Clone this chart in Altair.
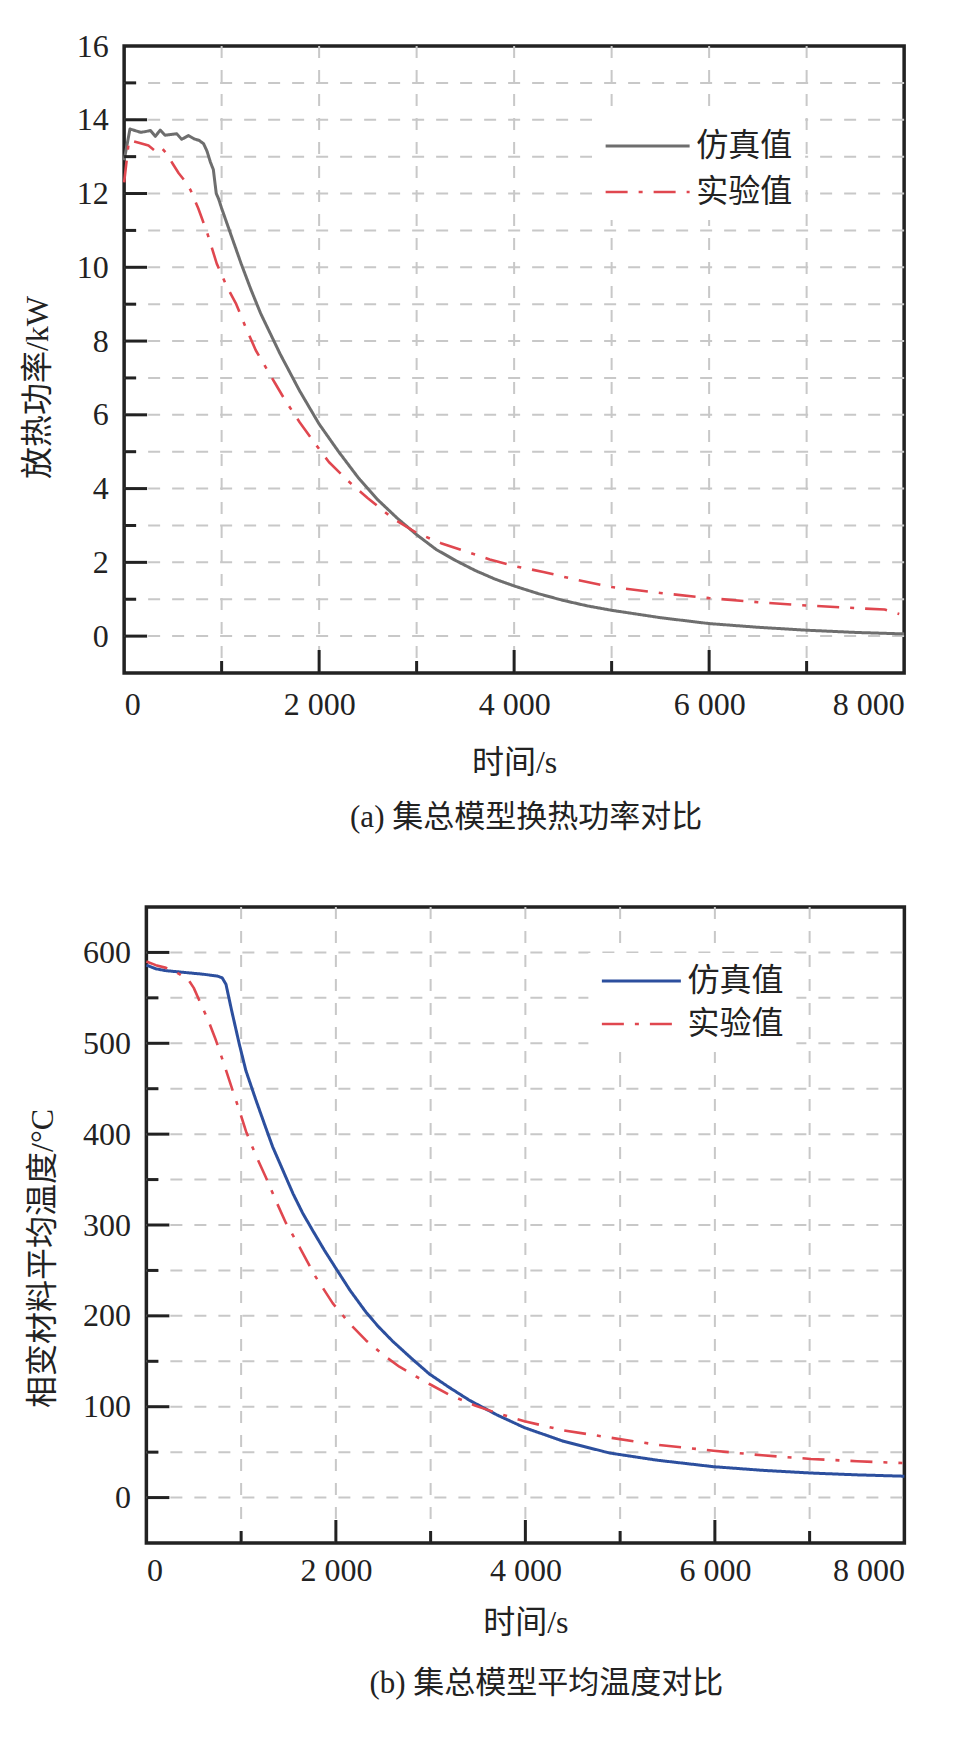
import altair as alt
import pandas as pd

FONT = "Liberation Serif, Times New Roman, Noto Sans CJK SC"
SIM = "仿真值"
EXP = "实验值"
RED = "#e0474f"
GRAY = "#6e6e6e"
BLUE = "#2c4f9e"
INK = "#222222"

# ---------------- panel (a): heat release power, kW ----------------
a_sim_t = [0, 60, 120, 170, 220, 270, 320, 370, 420, 480, 540, 590, 660, 720, 770,
           815, 850, 885, 915, 945, 970, 1000, 1100, 1200, 1300, 1400, 1500, 1600,
           1700, 1800, 1900, 2000, 2200, 2400, 2600, 2800, 3000, 3200, 3400, 3600,
           3800, 4000, 4250, 4500, 4750, 5000, 5500, 6000, 6500, 7000, 7500, 8000]
a_sim_v = [12.9, 13.75, 13.70, 13.66, 13.68, 13.71, 13.55, 13.72, 13.58, 13.60,
           13.62, 13.47, 13.57, 13.48, 13.44, 13.35, 13.15, 12.85, 12.65, 12.0,
           11.85, 11.6, 10.85, 10.1, 9.4, 8.75, 8.2, 7.65, 7.15, 6.65, 6.2, 5.75,
           5.0, 4.3, 3.7, 3.2, 2.75, 2.35, 2.05, 1.78, 1.55, 1.36, 1.15, 0.97,
           0.82, 0.70, 0.50, 0.34, 0.24, 0.16, 0.10, 0.06]
a_exp_t = [0, 50, 150, 250, 320, 380, 430, 500, 560, 620, 680, 760, 850, 950, 1050,
           1150, 1250, 1350, 1450, 1550, 1650, 1800, 1950, 2100, 2300, 2500, 2750,
           3000, 3250, 3500, 3750, 4000, 4300, 4650, 5000, 5500, 6000, 6500, 7000,
           7500, 7800, 7950]
a_exp_v = [12.3, 13.45, 13.38, 13.30, 13.15, 13.25, 13.10, 12.80, 12.55, 12.35,
           12.10, 11.60, 10.95, 10.10, 9.50, 9.00, 8.35, 7.75, 7.30, 6.85, 6.40,
           5.80, 5.25, 4.72, 4.20, 3.74, 3.20, 2.80, 2.52, 2.30, 2.08, 1.90, 1.74,
           1.52, 1.33, 1.17, 1.03, 0.92, 0.83, 0.76, 0.72, 0.60]

# ---------------- panel (b): mean PCM temperature, °C ----------------
b_sim_t = [0, 100, 200, 400, 600, 750, 800, 840, 900, 981, 1050, 1158, 1250, 1333,
           1450, 1550, 1650, 1755, 1880, 2002, 2150, 2318, 2450, 2600, 2800, 2987,
           3200, 3411, 3700, 3990, 4400, 4891, 5400, 5985, 6500, 7014, 7500, 8000]
b_sim_v = [586, 582, 580, 578, 576, 574, 572, 565, 536, 499, 470, 437, 410, 386,
           358, 334, 313, 294, 272, 252, 228, 204, 188, 172, 153, 136, 121, 107,
           91, 77, 62, 49, 41, 34, 30, 27, 25, 23.5]
b_exp_t = [0, 100, 208, 320, 436, 500, 559, 650, 735, 820, 911, 1000, 1052, 1150,
           1263, 1370, 1474, 1615, 1780, 1966, 2150, 2318, 2500, 2670, 2850, 2987,
           3200, 3475, 3700, 3990, 4400, 4891, 5400, 5985, 6500, 7014, 7500, 7979]
b_exp_v = [590, 586, 583, 578, 571, 561, 547, 526, 503, 477, 448, 420, 403, 378,
           352, 326, 302, 276, 244, 214, 191, 173, 157, 144, 133, 125, 113, 101,
           93, 84, 74, 66, 58, 51.6, 46.5, 42.5, 40, 38]

x_domain = [0, 8000]
x_labels = [0, 2000, 4000, 6000, 8000]
x_grid = [1000, 2000, 3000, 4000, 5000, 6000, 7000]
x_major = [2000, 4000, 6000]
x_minor = [1000, 3000, 5000, 7000]

a_y_domain = [-1, 16]
a_y_labels = [0, 2, 4, 6, 8, 10, 12, 14, 16]
a_y_grid = list(range(0, 16))
a_y_major = [0, 2, 4, 6, 8, 10, 12, 14]
a_y_minor = [1, 3, 5, 7, 9, 11, 13, 15]

b_y_domain = [-50, 650]
b_y_labels = [0, 100, 200, 300, 400, 500, 600]
b_y_grid = [0, 50, 100, 150, 200, 250, 300, 350, 400, 450, 500, 550, 600]
b_y_major = [0, 100, 200, 300, 400, 500, 600]
b_y_minor = [50, 150, 250, 350, 450, 550]


def panel(sim_t, sim_v, exp_t, exp_v, sim_color, y_domain, y_labels, y_grid,
          y_major, y_minor, W, H, y_title, caption, leg_x, leg_y, sym_len,
          row_pad, title_x, title_y, cap_dx, lab_pad, tit_pad, cap_off,
          right_room=0):
    df = pd.concat([
        pd.DataFrame({"t": sim_t, "value": sim_v, "series": SIM}),
        pd.DataFrame({"t": exp_t, "value": exp_v, "series": EXP}),
    ])
    xs = alt.Scale(domain=x_domain, nice=False, zero=False)
    ys = alt.Scale(domain=y_domain, nice=False, zero=False)

    x_axis = alt.Axis(values=x_labels, title="时间/s", titlePadding=tit_pad,
                      labelPadding=lab_pad,
                      labelExpr="replace(format(datum.value, ','), ',', ' ')")
    y_axis = alt.Axis(values=y_labels, title=y_title, labelPadding=16,
                      titleX=title_x, titleY=title_y, titleBaseline="middle",
                      titleAngle=270)

    leg = alt.Legend(orient="none", legendX=leg_x, legendY=leg_y, title=None,
                     fillColor="white", padding=12, symbolType="stroke",
                     symbolSize=sym_len * sym_len, symbolStrokeWidth=3,
                     labelFont=FONT, labelFontSize=32, labelColor=INK,
                     labelOffset=5, rowPadding=row_pad, clipHeight=32,
                     labelLimit=0)

    def X(f):
        return alt.X(f, scale=xs, axis=x_axis, title="时间/s")

    def Y(f):
        return alt.Y(f, scale=ys, axis=y_axis, title=y_title)

    hgrid = alt.Chart(pd.DataFrame({"v": y_grid})).mark_rule(
        color="#c8c8c8", strokeWidth=2, strokeDash=[12, 12]
    ).encode(y=Y("v:Q"), x=alt.value(0), x2=alt.value(W))
    vgrid = alt.Chart(pd.DataFrame({"v": x_grid})).mark_rule(
        color="#c8c8c8", strokeWidth=2, strokeDash=[12, 12]
    ).encode(x=X("v:Q"), y=alt.value(0), y2=alt.value(H))

    lines = alt.Chart(df).mark_line(strokeJoin="round").encode(
        x=X("t:Q"),
        y=Y("value:Q"),
        color=alt.Color("series:N", sort=[SIM, EXP],
                        scale=alt.Scale(domain=[SIM, EXP], range=[sim_color, RED]),
                        legend=leg),
        strokeDash=alt.StrokeDash("series:N", sort=[SIM, EXP],
                                  scale=alt.Scale(domain=[SIM, EXP],
                                                  range=[[1, 0], [22, 11, 4, 11]]),
                                  legend=leg),
        strokeWidth=alt.StrokeWidth("series:N",
                                    scale=alt.Scale(domain=[SIM, EXP], range=[3, 2.6]),
                                    legend=None),
    )

    # inward axis ticks (major long, minor short)
    ytick_major = alt.Chart(pd.DataFrame({"v": y_major})).mark_tick(
        color=INK, orient="horizontal", size=23, thickness=3, opacity=1).encode(
        y=Y("v:Q"), x=alt.value(11.5))
    ytick_minor = alt.Chart(pd.DataFrame({"v": y_minor})).mark_tick(
        color=INK, orient="horizontal", size=12, thickness=3, opacity=1).encode(
        y=Y("v:Q"), x=alt.value(6))
    xtick_major = alt.Chart(pd.DataFrame({"v": x_major})).mark_tick(
        color=INK, orient="vertical", size=23, thickness=3, opacity=1).encode(
        x=X("v:Q"), y=alt.value(H - 11.5))
    xtick_minor = alt.Chart(pd.DataFrame({"v": x_minor})).mark_tick(
        color=INK, orient="vertical", size=12, thickness=3, opacity=1).encode(
        x=X("v:Q"), y=alt.value(H - 6))

    layers = [hgrid, vgrid, lines, ytick_major, ytick_minor, xtick_major, xtick_minor]
    if right_room:
        # invisible layout spacer on the right (keeps panel offsets as in the figure)
        layers.append(alt.Chart(pd.DataFrame({"v": [0]})).mark_rule(
            opacity=0, strokeWidth=1).encode(
            x=alt.value(W + right_room), x2=alt.value(W + right_room),
            y=alt.value(0), y2=alt.value(1)))

    return alt.layer(*layers).properties(
        width=W, height=H,
        title=alt.TitleParams(text=caption, orient="bottom", anchor="middle",
                              dx=cap_dx, offset=cap_off, font=FONT, fontSize=31,
                              fontWeight="normal", color=INK),
    )


pa = panel(a_sim_t, a_sim_v, a_exp_t, a_exp_v, GRAY, a_y_domain, a_y_labels,
           a_y_grid, a_y_major, a_y_minor, 780, 627, "放热功率/kW",
           "(a) 集总模型换热功率对比", 468, 72, 84, 14, -87, 341, 12,
           16, 27, 25, right_room=24)
pb = panel(b_sim_t, b_sim_v, b_exp_t, b_exp_v, BLUE, b_y_domain, b_y_labels,
           b_y_grid, b_y_major, b_y_minor, 758, 636, "相变材料平均温度/°C",
           "(b) 集总模型平均温度对比", 442, 46, 79, 11, -104, 351, 21,
           12, 21, 31)

chart = alt.vconcat(pa, pb, spacing=69, center=True).resolve_scale(
    x="independent", y="independent", color="independent",
    strokeDash="independent", strokeWidth="independent",
).resolve_legend(
    color="independent", strokeDash="independent",
).properties(
    padding={"left": 11, "top": 20, "right": 0, "bottom": 5},
).configure_view(
    stroke=INK, strokeWidth=3.5
).configure_axis(
    labelFont=FONT, labelFontSize=32, labelColor=INK,
    titleFont=FONT, titleFontSize=32, titleFontWeight="normal", titleColor=INK,
    domain=False, ticks=False, grid=False,
).configure_legend(
    labelFont=FONT,
)

chart.save("out.html", embed_options={"renderer": "svg", "actions": False})
